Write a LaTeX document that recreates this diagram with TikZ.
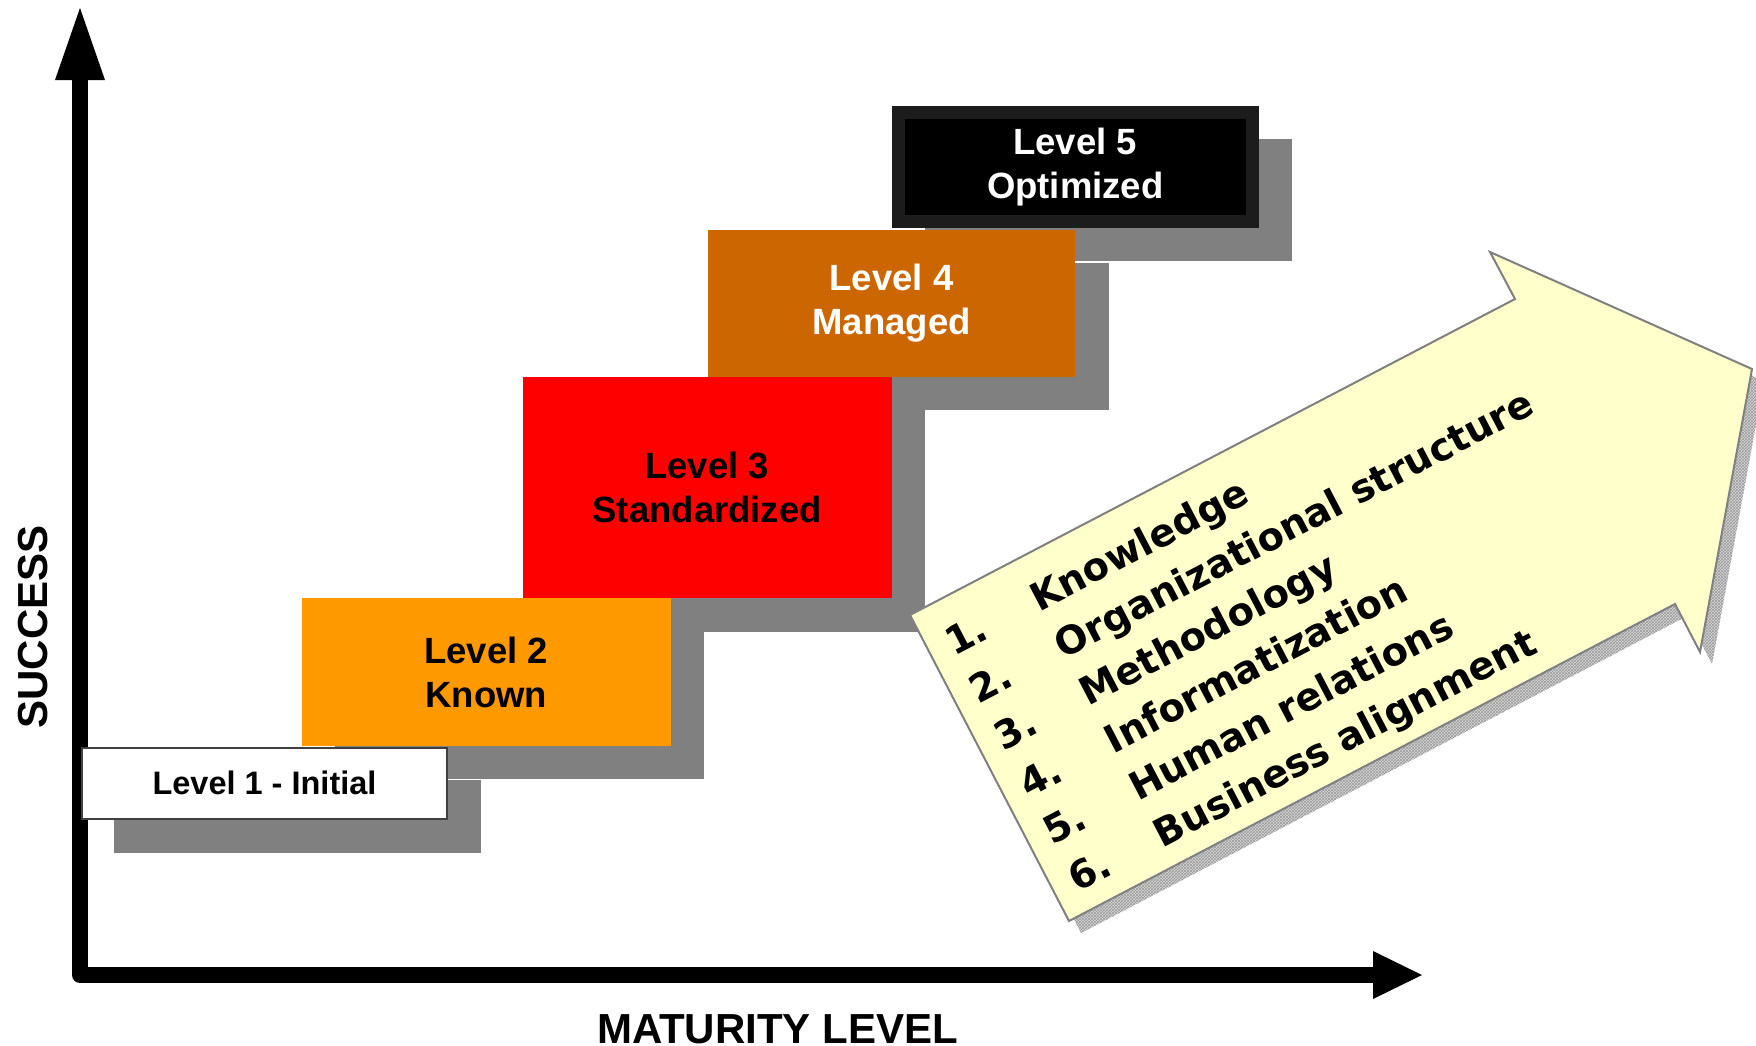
\documentclass[tikz,border=0pt]{standalone}
\usepackage{fontspec}
\setmainfont{Liberation Sans}
\newfontfamily\listfont{DejaVu Sans}
\usetikzlibrary{calc,patterns}
\pgfdeclarelayer{bg}
\pgfsetlayers{bg,main}
\definecolor{lvtwo}{HTML}{FF9900}
\definecolor{lvthree}{HTML}{FF0000}
\definecolor{lvfour}{HTML}{CC6600}
\definecolor{lvfive}{HTML}{000000}
\definecolor{lvfiveborder}{HTML}{1C1C1C}
\definecolor{lvoneborder}{HTML}{404040}
\definecolor{shade}{HTML}{808080}
\definecolor{notefill}{HTML}{FFFFCC}
\definecolor{noteline}{HTML}{808080}
\begin{document}
\begin{tikzpicture}[x=1pt,y=-1pt,
  lvl/.style={rectangle, inner sep=0pt, align=center, font=\bfseries\fontsize{36.5}{44}\selectfont},
  shadowfill/.style={fill=shade},
  axisline/.style={line width=16pt, line join=round},
  listtxt/.style={inner sep=0pt, anchor=base west, rotate=27.6, font=\listfont\bfseries\fontsize{38.5}{46}\selectfont},
  axislabel/.style={inner sep=0pt, font=\bfseries\fontsize{42}{50}\selectfont}]
\useasboundingbox (0,0) rectangle (1756,1045);
\begin{pgfonlayer}{bg}
  \fill[white] (0,0) rectangle (1756,1045);
\end{pgfonlayer}

% axes
\coordinate (O) at (80,975);
\coordinate (Ytip) at (80,8);
\coordinate (Xtip) at (1422,975);
\draw[axisline] ($(Ytip)+(0,70)$) -- (O) -- ($(Xtip)+(-47,0)$);
\fill (Ytip) -- ++(25,72) -- ++(-50,0) -- cycle;
\fill (Xtip) -- ++(-49,-24) -- ++(0,48) -- cycle;
\node[axislabel, rotate=90] (ylab) at (33,627) {SUCCESS};
\node[axislabel, anchor=base] (xlab) at (777.5,1043.5) {MATURITY LEVEL};

% level boxes
\node[lvl, fill=lvfive, draw=lvfiveborder, line width=13pt, minimum width=354pt, minimum height=109pt, text=white] (L5) at (1075.2,167) {Level 5\\Optimized};
\node[lvl, fill=lvfour, minimum width=367.7pt, minimum height=147.2pt, text=white] (L4) at (891.55,303.4) {Level 4\\Managed};
\node[lvl, fill=lvthree, minimum width=369pt, minimum height=221pt] (L3) at (707.2,487.8) {Level 3\\Standardized};
\node[lvl, fill=lvtwo, minimum width=369pt, minimum height=147.7pt] (L2) at (486.2,672.15) {Level 2\\Known};
\node[lvl, fill=white, draw=lvoneborder, line width=2pt, minimum width=365.6pt, minimum height=71.3pt, font=\bfseries\fontsize{32.5}{39}\selectfont] (L1) at (264.5,783.35) {Level 1 - Initial};

% shadows of the level boxes
\begin{pgfonlayer}{bg}
  \foreach \n in {L1,L2,L3,L4,L5}{
    \fill[shadowfill] ([shift={(33,33)}]\n.north west) rectangle ([shift={(33,33)}]\n.south east);
  }
\end{pgfonlayer}

% big arrow with its hatched shadow
\begin{scope}[shift={(12,12)}]
  \fill[gray!30] (910,615) -- (1515,299) -- (1490,252) -- (1752,369) -- (1700,652) -- (1675,604) -- (1069,921) -- cycle;
  \fill[pattern=crosshatch, pattern color=gray!80] (910,615) -- (1515,299) -- (1490,252) -- (1752,369) -- (1700,652) -- (1675,604) -- (1069,921) -- cycle;
\end{scope}
\filldraw[fill=notefill, draw=noteline, line width=2pt] (910,615) -- (1515,299) -- (1490,252) -- (1752,369) -- (1700,652) -- (1675,604) -- (1069,921) -- cycle;

% list inside the arrow
\node[listtxt] (item1) at (954,657) {\makebox[96pt][l]{1.}Knowledge};
\node[listtxt] (item2) at (978.7,704.2) {\makebox[96pt][l]{2.}Organizational structure};
\node[listtxt] (item3) at (1003.4,751.4) {\makebox[96pt][l]{3.}Methodology};
\node[listtxt] (item4) at (1028.1,798.6) {\makebox[96pt][l]{4.}Informatization};
\node[listtxt] (item5) at (1052.8,845.8) {\makebox[96pt][l]{5.}Human relations};
\node[listtxt] (item6) at (1077.5,893) {\makebox[96pt][l]{6.}Business alignment};
\end{tikzpicture}
\end{document}
